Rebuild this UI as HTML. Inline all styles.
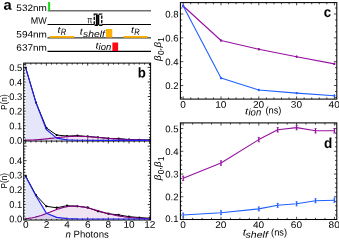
<!DOCTYPE html>
<html><head><meta charset="utf-8"><title>figure</title><style>html,body{margin:0;padding:0;background:#fff;}svg text{font-family:"Liberation Sans",sans-serif;}svg{will-change:transform;}</style></head>
<body>
<svg width="339" height="240" viewBox="0 0 339 240" style="display:block">
<rect width="339" height="240" fill="#fff"/>
<text transform="rotate(0.05 3.5 9.8)" x="3.5" y="9.8" font-size="14.4" text-anchor="start" font-weight="bold" font-style="normal" fill="#000" textLength="8.2" lengthAdjust="spacingAndGlyphs" >a</text>
<text transform="rotate(0.05 16.3 10.9)" x="16.3" y="10.9" font-size="9.3" text-anchor="start" font-weight="normal" font-style="normal" fill="#000" textLength="30.7" lengthAdjust="spacingAndGlyphs" >532nm</text>
<text transform="rotate(0.05 30.8 23.8)" x="30.8" y="23.8" font-size="9.3" text-anchor="start" font-weight="normal" font-style="normal" fill="#000" textLength="16" lengthAdjust="spacingAndGlyphs" >MW</text>
<text transform="rotate(0.05 16.3 37.4)" x="16.3" y="37.4" font-size="9.3" text-anchor="start" font-weight="normal" font-style="normal" fill="#000" textLength="30.7" lengthAdjust="spacingAndGlyphs" >594nm</text>
<text transform="rotate(0.05 16.3 50.7)" x="16.3" y="50.7" font-size="9.3" text-anchor="start" font-weight="normal" font-style="normal" fill="#000" textLength="30.7" lengthAdjust="spacingAndGlyphs" >637nm</text>
<line x1="47.8" y1="10.85" x2="151" y2="10.85" stroke="#707070" stroke-width="1.5" />
<line x1="47.5" y1="24.5" x2="151" y2="24.5" stroke="#000" stroke-width="1.05" />
<line x1="47.5" y1="37.9" x2="151" y2="37.9" stroke="#000" stroke-width="1" />
<line x1="47.5" y1="51.4" x2="151" y2="51.4" stroke="#000" stroke-width="1.1" />
<line x1="49.1" y1="2.0" x2="49.1" y2="10.7" stroke="#14dc14" stroke-width="2.0" />
<line x1="49.75" y1="36.9" x2="74.1" y2="36.9" stroke="#ffb000" stroke-width="1.8" />
<line x1="123.6" y1="36.9" x2="147.5" y2="36.9" stroke="#ffb000" stroke-width="1.8" />
<rect x="106" y="29" width="6.25" height="8.5" fill="#ffb000" stroke="none" stroke-width="1" />
<rect x="112.4" y="42.5" width="5.7" height="8.5" fill="#ff0814" stroke="none" stroke-width="1" />
<text transform="rotate(0.05 87.2 23.2)" x="87.2" y="23.2" font-size="10" text-anchor="start" font-weight="normal" font-style="normal" fill="#000" textLength="5.2" lengthAdjust="spacingAndGlyphs" >π</text>
<rect x="94.25" y="14.05" width="7.5" height="11.2" fill="#fff" stroke="#000" stroke-width="1.3" stroke-dasharray="3.3 1.2"/>
<rect x="95.9" y="14.7" width="3.4" height="10.4" fill="#000" stroke="none" stroke-width="1" />
<line x1="97.6" y1="15.2" x2="97.6" y2="24.6" stroke="#444" stroke-width="0.4" />
<text transform="rotate(0.05 57.5 32.7)" x="57.5" y="32.7" font-size="9" font-style="italic" fill="#000" textLength="3.0" lengthAdjust="spacingAndGlyphs">t</text>
<text transform="rotate(0.05 60.8 35.1)" x="60.8" y="35.1" font-size="9.2" font-style="italic" fill="#000" textLength="5.4" lengthAdjust="spacingAndGlyphs">R</text>
<text transform="rotate(0.05 131 32.7)" x="131" y="32.7" font-size="9" font-style="italic" fill="#000" textLength="3.0" lengthAdjust="spacingAndGlyphs">t</text>
<text transform="rotate(0.05 134.3 35.1)" x="134.3" y="35.1" font-size="9.2" font-style="italic" fill="#000" textLength="5.4" lengthAdjust="spacingAndGlyphs">R</text>
<text transform="rotate(0.05 79.8 34.6)" x="79.8" y="34.6" font-size="9" font-style="italic" fill="#000" textLength="3.0" lengthAdjust="spacingAndGlyphs">t</text>
<text transform="rotate(0.05 83 36.9)" x="83" y="36.9" font-size="9.1" font-style="italic" fill="#000" textLength="21.8" lengthAdjust="spacingAndGlyphs">shelf</text>
<text transform="rotate(0.05 95.4 48.4)" x="95.4" y="48.4" font-size="9" font-style="italic" fill="#000" textLength="3.0" lengthAdjust="spacingAndGlyphs">t</text>
<text transform="rotate(0.05 98.6 49.9)" x="98.6" y="49.9" font-size="9.5" font-style="italic" fill="#000" textLength="12.6" lengthAdjust="spacingAndGlyphs">ion</text>
<rect x="23.7" y="63.1" width="126.89999999999999" height="156.9" fill="none" stroke="#000" stroke-width="1.0" />
<line x1="23.7" y1="141.0" x2="150.6" y2="141.0" stroke="#000" stroke-width="1.0" />
<line x1="25.7" y1="141.0" x2="25.7" y2="138.5" stroke="#000" stroke-width="0.8" />
<line x1="25.7" y1="63.1" x2="25.7" y2="65.6" stroke="#000" stroke-width="0.8" />
<line x1="25.7" y1="220.0" x2="25.7" y2="217.5" stroke="#000" stroke-width="0.8" />
<line x1="25.7" y1="141.0" x2="25.7" y2="143.5" stroke="#000" stroke-width="0.8" />
<line x1="30.865" y1="141.0" x2="30.865" y2="139.5" stroke="#000" stroke-width="0.8" />
<line x1="30.865" y1="63.1" x2="30.865" y2="64.6" stroke="#000" stroke-width="0.8" />
<line x1="30.865" y1="220.0" x2="30.865" y2="218.5" stroke="#000" stroke-width="0.8" />
<line x1="30.865" y1="141.0" x2="30.865" y2="142.5" stroke="#000" stroke-width="0.8" />
<line x1="36.03" y1="141.0" x2="36.03" y2="139.5" stroke="#000" stroke-width="0.8" />
<line x1="36.03" y1="63.1" x2="36.03" y2="64.6" stroke="#000" stroke-width="0.8" />
<line x1="36.03" y1="220.0" x2="36.03" y2="218.5" stroke="#000" stroke-width="0.8" />
<line x1="36.03" y1="141.0" x2="36.03" y2="142.5" stroke="#000" stroke-width="0.8" />
<line x1="41.195" y1="141.0" x2="41.195" y2="139.5" stroke="#000" stroke-width="0.8" />
<line x1="41.195" y1="63.1" x2="41.195" y2="64.6" stroke="#000" stroke-width="0.8" />
<line x1="41.195" y1="220.0" x2="41.195" y2="218.5" stroke="#000" stroke-width="0.8" />
<line x1="41.195" y1="141.0" x2="41.195" y2="142.5" stroke="#000" stroke-width="0.8" />
<line x1="46.36" y1="141.0" x2="46.36" y2="138.5" stroke="#000" stroke-width="0.8" />
<line x1="46.36" y1="63.1" x2="46.36" y2="65.6" stroke="#000" stroke-width="0.8" />
<line x1="46.36" y1="220.0" x2="46.36" y2="217.5" stroke="#000" stroke-width="0.8" />
<line x1="46.36" y1="141.0" x2="46.36" y2="143.5" stroke="#000" stroke-width="0.8" />
<line x1="51.525" y1="141.0" x2="51.525" y2="139.5" stroke="#000" stroke-width="0.8" />
<line x1="51.525" y1="63.1" x2="51.525" y2="64.6" stroke="#000" stroke-width="0.8" />
<line x1="51.525" y1="220.0" x2="51.525" y2="218.5" stroke="#000" stroke-width="0.8" />
<line x1="51.525" y1="141.0" x2="51.525" y2="142.5" stroke="#000" stroke-width="0.8" />
<line x1="56.69" y1="141.0" x2="56.69" y2="139.5" stroke="#000" stroke-width="0.8" />
<line x1="56.69" y1="63.1" x2="56.69" y2="64.6" stroke="#000" stroke-width="0.8" />
<line x1="56.69" y1="220.0" x2="56.69" y2="218.5" stroke="#000" stroke-width="0.8" />
<line x1="56.69" y1="141.0" x2="56.69" y2="142.5" stroke="#000" stroke-width="0.8" />
<line x1="61.855000000000004" y1="141.0" x2="61.855000000000004" y2="139.5" stroke="#000" stroke-width="0.8" />
<line x1="61.855000000000004" y1="63.1" x2="61.855000000000004" y2="64.6" stroke="#000" stroke-width="0.8" />
<line x1="61.855000000000004" y1="220.0" x2="61.855000000000004" y2="218.5" stroke="#000" stroke-width="0.8" />
<line x1="61.855000000000004" y1="141.0" x2="61.855000000000004" y2="142.5" stroke="#000" stroke-width="0.8" />
<line x1="67.02" y1="141.0" x2="67.02" y2="138.5" stroke="#000" stroke-width="0.8" />
<line x1="67.02" y1="63.1" x2="67.02" y2="65.6" stroke="#000" stroke-width="0.8" />
<line x1="67.02" y1="220.0" x2="67.02" y2="217.5" stroke="#000" stroke-width="0.8" />
<line x1="67.02" y1="141.0" x2="67.02" y2="143.5" stroke="#000" stroke-width="0.8" />
<line x1="72.185" y1="141.0" x2="72.185" y2="139.5" stroke="#000" stroke-width="0.8" />
<line x1="72.185" y1="63.1" x2="72.185" y2="64.6" stroke="#000" stroke-width="0.8" />
<line x1="72.185" y1="220.0" x2="72.185" y2="218.5" stroke="#000" stroke-width="0.8" />
<line x1="72.185" y1="141.0" x2="72.185" y2="142.5" stroke="#000" stroke-width="0.8" />
<line x1="77.35" y1="141.0" x2="77.35" y2="139.5" stroke="#000" stroke-width="0.8" />
<line x1="77.35" y1="63.1" x2="77.35" y2="64.6" stroke="#000" stroke-width="0.8" />
<line x1="77.35" y1="220.0" x2="77.35" y2="218.5" stroke="#000" stroke-width="0.8" />
<line x1="77.35" y1="141.0" x2="77.35" y2="142.5" stroke="#000" stroke-width="0.8" />
<line x1="82.515" y1="141.0" x2="82.515" y2="139.5" stroke="#000" stroke-width="0.8" />
<line x1="82.515" y1="63.1" x2="82.515" y2="64.6" stroke="#000" stroke-width="0.8" />
<line x1="82.515" y1="220.0" x2="82.515" y2="218.5" stroke="#000" stroke-width="0.8" />
<line x1="82.515" y1="141.0" x2="82.515" y2="142.5" stroke="#000" stroke-width="0.8" />
<line x1="87.68" y1="141.0" x2="87.68" y2="138.5" stroke="#000" stroke-width="0.8" />
<line x1="87.68" y1="63.1" x2="87.68" y2="65.6" stroke="#000" stroke-width="0.8" />
<line x1="87.68" y1="220.0" x2="87.68" y2="217.5" stroke="#000" stroke-width="0.8" />
<line x1="87.68" y1="141.0" x2="87.68" y2="143.5" stroke="#000" stroke-width="0.8" />
<line x1="92.845" y1="141.0" x2="92.845" y2="139.5" stroke="#000" stroke-width="0.8" />
<line x1="92.845" y1="63.1" x2="92.845" y2="64.6" stroke="#000" stroke-width="0.8" />
<line x1="92.845" y1="220.0" x2="92.845" y2="218.5" stroke="#000" stroke-width="0.8" />
<line x1="92.845" y1="141.0" x2="92.845" y2="142.5" stroke="#000" stroke-width="0.8" />
<line x1="98.01" y1="141.0" x2="98.01" y2="139.5" stroke="#000" stroke-width="0.8" />
<line x1="98.01" y1="63.1" x2="98.01" y2="64.6" stroke="#000" stroke-width="0.8" />
<line x1="98.01" y1="220.0" x2="98.01" y2="218.5" stroke="#000" stroke-width="0.8" />
<line x1="98.01" y1="141.0" x2="98.01" y2="142.5" stroke="#000" stroke-width="0.8" />
<line x1="103.175" y1="141.0" x2="103.175" y2="139.5" stroke="#000" stroke-width="0.8" />
<line x1="103.175" y1="63.1" x2="103.175" y2="64.6" stroke="#000" stroke-width="0.8" />
<line x1="103.175" y1="220.0" x2="103.175" y2="218.5" stroke="#000" stroke-width="0.8" />
<line x1="103.175" y1="141.0" x2="103.175" y2="142.5" stroke="#000" stroke-width="0.8" />
<line x1="108.34" y1="141.0" x2="108.34" y2="138.5" stroke="#000" stroke-width="0.8" />
<line x1="108.34" y1="63.1" x2="108.34" y2="65.6" stroke="#000" stroke-width="0.8" />
<line x1="108.34" y1="220.0" x2="108.34" y2="217.5" stroke="#000" stroke-width="0.8" />
<line x1="108.34" y1="141.0" x2="108.34" y2="143.5" stroke="#000" stroke-width="0.8" />
<line x1="113.50500000000001" y1="141.0" x2="113.50500000000001" y2="139.5" stroke="#000" stroke-width="0.8" />
<line x1="113.50500000000001" y1="63.1" x2="113.50500000000001" y2="64.6" stroke="#000" stroke-width="0.8" />
<line x1="113.50500000000001" y1="220.0" x2="113.50500000000001" y2="218.5" stroke="#000" stroke-width="0.8" />
<line x1="113.50500000000001" y1="141.0" x2="113.50500000000001" y2="142.5" stroke="#000" stroke-width="0.8" />
<line x1="118.67" y1="141.0" x2="118.67" y2="139.5" stroke="#000" stroke-width="0.8" />
<line x1="118.67" y1="63.1" x2="118.67" y2="64.6" stroke="#000" stroke-width="0.8" />
<line x1="118.67" y1="220.0" x2="118.67" y2="218.5" stroke="#000" stroke-width="0.8" />
<line x1="118.67" y1="141.0" x2="118.67" y2="142.5" stroke="#000" stroke-width="0.8" />
<line x1="123.83500000000001" y1="141.0" x2="123.83500000000001" y2="139.5" stroke="#000" stroke-width="0.8" />
<line x1="123.83500000000001" y1="63.1" x2="123.83500000000001" y2="64.6" stroke="#000" stroke-width="0.8" />
<line x1="123.83500000000001" y1="220.0" x2="123.83500000000001" y2="218.5" stroke="#000" stroke-width="0.8" />
<line x1="123.83500000000001" y1="141.0" x2="123.83500000000001" y2="142.5" stroke="#000" stroke-width="0.8" />
<line x1="129.0" y1="141.0" x2="129.0" y2="138.5" stroke="#000" stroke-width="0.8" />
<line x1="129.0" y1="63.1" x2="129.0" y2="65.6" stroke="#000" stroke-width="0.8" />
<line x1="129.0" y1="220.0" x2="129.0" y2="217.5" stroke="#000" stroke-width="0.8" />
<line x1="129.0" y1="141.0" x2="129.0" y2="143.5" stroke="#000" stroke-width="0.8" />
<line x1="134.165" y1="141.0" x2="134.165" y2="139.5" stroke="#000" stroke-width="0.8" />
<line x1="134.165" y1="63.1" x2="134.165" y2="64.6" stroke="#000" stroke-width="0.8" />
<line x1="134.165" y1="220.0" x2="134.165" y2="218.5" stroke="#000" stroke-width="0.8" />
<line x1="134.165" y1="141.0" x2="134.165" y2="142.5" stroke="#000" stroke-width="0.8" />
<line x1="139.32999999999998" y1="141.0" x2="139.32999999999998" y2="139.5" stroke="#000" stroke-width="0.8" />
<line x1="139.32999999999998" y1="63.1" x2="139.32999999999998" y2="64.6" stroke="#000" stroke-width="0.8" />
<line x1="139.32999999999998" y1="220.0" x2="139.32999999999998" y2="218.5" stroke="#000" stroke-width="0.8" />
<line x1="139.32999999999998" y1="141.0" x2="139.32999999999998" y2="142.5" stroke="#000" stroke-width="0.8" />
<line x1="144.495" y1="141.0" x2="144.495" y2="139.5" stroke="#000" stroke-width="0.8" />
<line x1="144.495" y1="63.1" x2="144.495" y2="64.6" stroke="#000" stroke-width="0.8" />
<line x1="144.495" y1="220.0" x2="144.495" y2="218.5" stroke="#000" stroke-width="0.8" />
<line x1="144.495" y1="141.0" x2="144.495" y2="142.5" stroke="#000" stroke-width="0.8" />
<line x1="149.66" y1="141.0" x2="149.66" y2="138.5" stroke="#000" stroke-width="0.8" />
<line x1="149.66" y1="63.1" x2="149.66" y2="65.6" stroke="#000" stroke-width="0.8" />
<line x1="149.66" y1="220.0" x2="149.66" y2="217.5" stroke="#000" stroke-width="0.8" />
<line x1="149.66" y1="141.0" x2="149.66" y2="143.5" stroke="#000" stroke-width="0.8" />
<line x1="23.7" y1="140.3" x2="26.599999999999998" y2="140.3" stroke="#000" stroke-width="0.8" />
<line x1="150.6" y1="140.3" x2="147.7" y2="140.3" stroke="#000" stroke-width="0.8" />
<line x1="23.7" y1="137.38400000000001" x2="25.4" y2="137.38400000000001" stroke="#000" stroke-width="0.8" />
<line x1="150.6" y1="137.38400000000001" x2="148.9" y2="137.38400000000001" stroke="#000" stroke-width="0.8" />
<line x1="23.7" y1="134.46800000000002" x2="25.4" y2="134.46800000000002" stroke="#000" stroke-width="0.8" />
<line x1="150.6" y1="134.46800000000002" x2="148.9" y2="134.46800000000002" stroke="#000" stroke-width="0.8" />
<line x1="23.7" y1="131.55200000000002" x2="25.4" y2="131.55200000000002" stroke="#000" stroke-width="0.8" />
<line x1="150.6" y1="131.55200000000002" x2="148.9" y2="131.55200000000002" stroke="#000" stroke-width="0.8" />
<line x1="23.7" y1="128.63600000000002" x2="25.4" y2="128.63600000000002" stroke="#000" stroke-width="0.8" />
<line x1="150.6" y1="128.63600000000002" x2="148.9" y2="128.63600000000002" stroke="#000" stroke-width="0.8" />
<line x1="23.7" y1="125.72000000000001" x2="26.599999999999998" y2="125.72000000000001" stroke="#000" stroke-width="0.8" />
<line x1="150.6" y1="125.72000000000001" x2="147.7" y2="125.72000000000001" stroke="#000" stroke-width="0.8" />
<line x1="23.7" y1="122.804" x2="25.4" y2="122.804" stroke="#000" stroke-width="0.8" />
<line x1="150.6" y1="122.804" x2="148.9" y2="122.804" stroke="#000" stroke-width="0.8" />
<line x1="23.7" y1="119.888" x2="25.4" y2="119.888" stroke="#000" stroke-width="0.8" />
<line x1="150.6" y1="119.888" x2="148.9" y2="119.888" stroke="#000" stroke-width="0.8" />
<line x1="23.7" y1="116.97200000000001" x2="25.4" y2="116.97200000000001" stroke="#000" stroke-width="0.8" />
<line x1="150.6" y1="116.97200000000001" x2="148.9" y2="116.97200000000001" stroke="#000" stroke-width="0.8" />
<line x1="23.7" y1="114.05600000000001" x2="25.4" y2="114.05600000000001" stroke="#000" stroke-width="0.8" />
<line x1="150.6" y1="114.05600000000001" x2="148.9" y2="114.05600000000001" stroke="#000" stroke-width="0.8" />
<line x1="23.7" y1="111.14000000000001" x2="26.599999999999998" y2="111.14000000000001" stroke="#000" stroke-width="0.8" />
<line x1="150.6" y1="111.14000000000001" x2="147.7" y2="111.14000000000001" stroke="#000" stroke-width="0.8" />
<line x1="23.7" y1="108.22400000000002" x2="25.4" y2="108.22400000000002" stroke="#000" stroke-width="0.8" />
<line x1="150.6" y1="108.22400000000002" x2="148.9" y2="108.22400000000002" stroke="#000" stroke-width="0.8" />
<line x1="23.7" y1="105.308" x2="25.4" y2="105.308" stroke="#000" stroke-width="0.8" />
<line x1="150.6" y1="105.308" x2="148.9" y2="105.308" stroke="#000" stroke-width="0.8" />
<line x1="23.7" y1="102.39200000000001" x2="25.4" y2="102.39200000000001" stroke="#000" stroke-width="0.8" />
<line x1="150.6" y1="102.39200000000001" x2="148.9" y2="102.39200000000001" stroke="#000" stroke-width="0.8" />
<line x1="23.7" y1="99.476" x2="25.4" y2="99.476" stroke="#000" stroke-width="0.8" />
<line x1="150.6" y1="99.476" x2="148.9" y2="99.476" stroke="#000" stroke-width="0.8" />
<line x1="23.7" y1="96.56" x2="26.599999999999998" y2="96.56" stroke="#000" stroke-width="0.8" />
<line x1="150.6" y1="96.56" x2="147.7" y2="96.56" stroke="#000" stroke-width="0.8" />
<line x1="23.7" y1="93.644" x2="25.4" y2="93.644" stroke="#000" stroke-width="0.8" />
<line x1="150.6" y1="93.644" x2="148.9" y2="93.644" stroke="#000" stroke-width="0.8" />
<line x1="23.7" y1="90.72800000000001" x2="25.4" y2="90.72800000000001" stroke="#000" stroke-width="0.8" />
<line x1="150.6" y1="90.72800000000001" x2="148.9" y2="90.72800000000001" stroke="#000" stroke-width="0.8" />
<line x1="23.7" y1="87.81200000000001" x2="25.4" y2="87.81200000000001" stroke="#000" stroke-width="0.8" />
<line x1="150.6" y1="87.81200000000001" x2="148.9" y2="87.81200000000001" stroke="#000" stroke-width="0.8" />
<line x1="23.7" y1="84.89600000000002" x2="25.4" y2="84.89600000000002" stroke="#000" stroke-width="0.8" />
<line x1="150.6" y1="84.89600000000002" x2="148.9" y2="84.89600000000002" stroke="#000" stroke-width="0.8" />
<line x1="23.7" y1="81.98" x2="26.599999999999998" y2="81.98" stroke="#000" stroke-width="0.8" />
<line x1="150.6" y1="81.98" x2="147.7" y2="81.98" stroke="#000" stroke-width="0.8" />
<line x1="23.7" y1="79.06400000000001" x2="25.4" y2="79.06400000000001" stroke="#000" stroke-width="0.8" />
<line x1="150.6" y1="79.06400000000001" x2="148.9" y2="79.06400000000001" stroke="#000" stroke-width="0.8" />
<line x1="23.7" y1="76.14800000000001" x2="25.4" y2="76.14800000000001" stroke="#000" stroke-width="0.8" />
<line x1="150.6" y1="76.14800000000001" x2="148.9" y2="76.14800000000001" stroke="#000" stroke-width="0.8" />
<line x1="23.7" y1="73.232" x2="25.4" y2="73.232" stroke="#000" stroke-width="0.8" />
<line x1="150.6" y1="73.232" x2="148.9" y2="73.232" stroke="#000" stroke-width="0.8" />
<line x1="23.7" y1="70.316" x2="25.4" y2="70.316" stroke="#000" stroke-width="0.8" />
<line x1="150.6" y1="70.316" x2="148.9" y2="70.316" stroke="#000" stroke-width="0.8" />
<line x1="23.7" y1="67.4" x2="26.599999999999998" y2="67.4" stroke="#000" stroke-width="0.8" />
<line x1="150.6" y1="67.4" x2="147.7" y2="67.4" stroke="#000" stroke-width="0.8" />
<line x1="23.7" y1="64.48400000000001" x2="25.4" y2="64.48400000000001" stroke="#000" stroke-width="0.8" />
<line x1="150.6" y1="64.48400000000001" x2="148.9" y2="64.48400000000001" stroke="#000" stroke-width="0.8" />
<line x1="23.7" y1="219.0" x2="26.599999999999998" y2="219.0" stroke="#000" stroke-width="0.8" />
<line x1="150.6" y1="219.0" x2="147.7" y2="219.0" stroke="#000" stroke-width="0.8" />
<line x1="23.7" y1="216.084" x2="25.4" y2="216.084" stroke="#000" stroke-width="0.8" />
<line x1="150.6" y1="216.084" x2="148.9" y2="216.084" stroke="#000" stroke-width="0.8" />
<line x1="23.7" y1="213.168" x2="25.4" y2="213.168" stroke="#000" stroke-width="0.8" />
<line x1="150.6" y1="213.168" x2="148.9" y2="213.168" stroke="#000" stroke-width="0.8" />
<line x1="23.7" y1="210.252" x2="25.4" y2="210.252" stroke="#000" stroke-width="0.8" />
<line x1="150.6" y1="210.252" x2="148.9" y2="210.252" stroke="#000" stroke-width="0.8" />
<line x1="23.7" y1="207.336" x2="25.4" y2="207.336" stroke="#000" stroke-width="0.8" />
<line x1="150.6" y1="207.336" x2="148.9" y2="207.336" stroke="#000" stroke-width="0.8" />
<line x1="23.7" y1="204.42" x2="26.599999999999998" y2="204.42" stroke="#000" stroke-width="0.8" />
<line x1="150.6" y1="204.42" x2="147.7" y2="204.42" stroke="#000" stroke-width="0.8" />
<line x1="23.7" y1="201.504" x2="25.4" y2="201.504" stroke="#000" stroke-width="0.8" />
<line x1="150.6" y1="201.504" x2="148.9" y2="201.504" stroke="#000" stroke-width="0.8" />
<line x1="23.7" y1="198.588" x2="25.4" y2="198.588" stroke="#000" stroke-width="0.8" />
<line x1="150.6" y1="198.588" x2="148.9" y2="198.588" stroke="#000" stroke-width="0.8" />
<line x1="23.7" y1="195.672" x2="25.4" y2="195.672" stroke="#000" stroke-width="0.8" />
<line x1="150.6" y1="195.672" x2="148.9" y2="195.672" stroke="#000" stroke-width="0.8" />
<line x1="23.7" y1="192.756" x2="25.4" y2="192.756" stroke="#000" stroke-width="0.8" />
<line x1="150.6" y1="192.756" x2="148.9" y2="192.756" stroke="#000" stroke-width="0.8" />
<line x1="23.7" y1="189.84" x2="26.599999999999998" y2="189.84" stroke="#000" stroke-width="0.8" />
<line x1="150.6" y1="189.84" x2="147.7" y2="189.84" stroke="#000" stroke-width="0.8" />
<line x1="23.7" y1="186.924" x2="25.4" y2="186.924" stroke="#000" stroke-width="0.8" />
<line x1="150.6" y1="186.924" x2="148.9" y2="186.924" stroke="#000" stroke-width="0.8" />
<line x1="23.7" y1="184.00799999999998" x2="25.4" y2="184.00799999999998" stroke="#000" stroke-width="0.8" />
<line x1="150.6" y1="184.00799999999998" x2="148.9" y2="184.00799999999998" stroke="#000" stroke-width="0.8" />
<line x1="23.7" y1="181.09199999999998" x2="25.4" y2="181.09199999999998" stroke="#000" stroke-width="0.8" />
<line x1="150.6" y1="181.09199999999998" x2="148.9" y2="181.09199999999998" stroke="#000" stroke-width="0.8" />
<line x1="23.7" y1="178.176" x2="25.4" y2="178.176" stroke="#000" stroke-width="0.8" />
<line x1="150.6" y1="178.176" x2="148.9" y2="178.176" stroke="#000" stroke-width="0.8" />
<line x1="23.7" y1="175.26" x2="26.599999999999998" y2="175.26" stroke="#000" stroke-width="0.8" />
<line x1="150.6" y1="175.26" x2="147.7" y2="175.26" stroke="#000" stroke-width="0.8" />
<line x1="23.7" y1="172.344" x2="25.4" y2="172.344" stroke="#000" stroke-width="0.8" />
<line x1="150.6" y1="172.344" x2="148.9" y2="172.344" stroke="#000" stroke-width="0.8" />
<line x1="23.7" y1="169.428" x2="25.4" y2="169.428" stroke="#000" stroke-width="0.8" />
<line x1="150.6" y1="169.428" x2="148.9" y2="169.428" stroke="#000" stroke-width="0.8" />
<line x1="23.7" y1="166.512" x2="25.4" y2="166.512" stroke="#000" stroke-width="0.8" />
<line x1="150.6" y1="166.512" x2="148.9" y2="166.512" stroke="#000" stroke-width="0.8" />
<line x1="23.7" y1="163.596" x2="25.4" y2="163.596" stroke="#000" stroke-width="0.8" />
<line x1="150.6" y1="163.596" x2="148.9" y2="163.596" stroke="#000" stroke-width="0.8" />
<line x1="23.7" y1="160.68" x2="26.599999999999998" y2="160.68" stroke="#000" stroke-width="0.8" />
<line x1="150.6" y1="160.68" x2="147.7" y2="160.68" stroke="#000" stroke-width="0.8" />
<line x1="23.7" y1="157.764" x2="25.4" y2="157.764" stroke="#000" stroke-width="0.8" />
<line x1="150.6" y1="157.764" x2="148.9" y2="157.764" stroke="#000" stroke-width="0.8" />
<line x1="23.7" y1="154.848" x2="25.4" y2="154.848" stroke="#000" stroke-width="0.8" />
<line x1="150.6" y1="154.848" x2="148.9" y2="154.848" stroke="#000" stroke-width="0.8" />
<line x1="23.7" y1="151.932" x2="25.4" y2="151.932" stroke="#000" stroke-width="0.8" />
<line x1="150.6" y1="151.932" x2="148.9" y2="151.932" stroke="#000" stroke-width="0.8" />
<line x1="23.7" y1="149.016" x2="25.4" y2="149.016" stroke="#000" stroke-width="0.8" />
<line x1="150.6" y1="149.016" x2="148.9" y2="149.016" stroke="#000" stroke-width="0.8" />
<line x1="23.7" y1="146.1" x2="26.599999999999998" y2="146.1" stroke="#000" stroke-width="0.8" />
<line x1="150.6" y1="146.1" x2="147.7" y2="146.1" stroke="#000" stroke-width="0.8" />
<line x1="23.7" y1="143.184" x2="25.4" y2="143.184" stroke="#000" stroke-width="0.8" />
<line x1="150.6" y1="143.184" x2="148.9" y2="143.184" stroke="#000" stroke-width="0.8" />
<polygon points="25.70,140.30 25.70,67.84 36.03,102.83 46.36,129.51 56.69,138.11 67.02,139.86 77.35,140.21 87.68,140.30 98.01,140.30 108.34,140.30 118.67,140.30 129.00,140.30 139.33,140.30 149.66,140.30 149.66,140.30" fill="#e6e6fa" stroke="none" />
<polygon points="25.70,140.30 25.70,140.20 26.99,140.17 28.28,140.14 29.57,140.10 30.86,140.05 32.16,139.99 33.45,139.93 34.74,139.86 36.03,139.78 37.32,139.69 38.61,139.59 39.90,139.49 41.20,139.37 42.49,139.26 43.78,139.13 45.07,139.00 46.36,138.86 47.65,138.71 48.94,138.57 50.23,138.42 51.52,138.26 52.82,138.11 54.11,137.96 55.40,137.81 56.69,137.66 57.98,137.51 59.27,137.37 60.56,137.23 61.86,137.10 63.15,136.98 64.44,136.87 65.73,136.76 67.02,136.67 68.31,136.58 69.60,136.51 70.89,136.44 72.19,136.39 73.48,136.35 74.77,136.32 76.06,136.31 77.35,136.30 78.64,136.31 79.93,136.33 81.22,136.35 82.52,136.39 83.81,136.44 85.10,136.50 86.39,136.56 87.68,136.63 88.97,136.72 90.26,136.80 91.55,136.89 92.84,136.99 94.14,137.09 95.43,137.20 96.72,137.31 98.01,137.42 99.30,137.53 100.59,137.65 101.88,137.76 103.17,137.87 104.47,137.99 105.76,138.10 107.05,138.21 108.34,138.32 109.63,138.43 110.92,138.53 112.21,138.63 113.51,138.73 114.80,138.83 116.09,138.92 117.38,139.01 118.67,139.09 119.96,139.17 121.25,139.25 122.54,139.32 123.84,139.39 125.13,139.46 126.42,139.52 127.71,139.58 129.00,139.63 130.29,139.69 131.58,139.74 132.87,139.78 134.16,139.82 135.46,139.86 136.75,139.90 138.04,139.94 139.33,139.97 140.62,140.00 141.91,140.02 143.20,140.05 144.50,140.07 145.79,140.09 147.08,140.11 148.37,140.13 149.66,140.15 149.66,140.30" fill="rgba(128,0,128,0.11)" stroke="none" />
<polyline points="25.70,67.84 36.03,102.54 46.36,127.91 56.69,135.05 67.02,136.07 77.35,135.63 87.68,136.51 98.01,137.38 108.34,138.40 118.67,138.55 129.00,139.57 139.33,139.86 149.66,140.15" fill="none" stroke="#000" stroke-width="1.0" stroke-linejoin="round" />
<circle cx="25.70" cy="67.84" r="1.15" fill="#000"/>
<circle cx="36.03" cy="102.54" r="1.15" fill="#000"/>
<circle cx="46.36" cy="127.91" r="1.15" fill="#000"/>
<circle cx="56.69" cy="135.05" r="1.15" fill="#000"/>
<circle cx="67.02" cy="136.07" r="1.15" fill="#000"/>
<circle cx="77.35" cy="135.63" r="1.15" fill="#000"/>
<circle cx="87.68" cy="136.51" r="1.15" fill="#000"/>
<circle cx="98.01" cy="137.38" r="1.15" fill="#000"/>
<circle cx="108.34" cy="138.40" r="1.15" fill="#000"/>
<circle cx="118.67" cy="138.55" r="1.15" fill="#000"/>
<circle cx="129.00" cy="139.57" r="1.15" fill="#000"/>
<circle cx="139.33" cy="139.86" r="1.15" fill="#000"/>
<circle cx="149.66" cy="140.15" r="1.15" fill="#000"/>
<polyline points="25.70,140.20 26.99,140.17 28.28,140.14 29.57,140.10 30.86,140.05 32.16,139.99 33.45,139.93 34.74,139.86 36.03,139.78 37.32,139.69 38.61,139.59 39.90,139.49 41.20,139.37 42.49,139.26 43.78,139.13 45.07,139.00 46.36,138.86 47.65,138.71 48.94,138.57 50.23,138.42 51.52,138.26 52.82,138.11 54.11,137.96 55.40,137.81 56.69,137.66 57.98,137.51 59.27,137.37 60.56,137.23 61.86,137.10 63.15,136.98 64.44,136.87 65.73,136.76 67.02,136.67 68.31,136.58 69.60,136.51 70.89,136.44 72.19,136.39 73.48,136.35 74.77,136.32 76.06,136.31 77.35,136.30 78.64,136.31 79.93,136.33 81.22,136.35 82.52,136.39 83.81,136.44 85.10,136.50 86.39,136.56 87.68,136.63 88.97,136.72 90.26,136.80 91.55,136.89 92.84,136.99 94.14,137.09 95.43,137.20 96.72,137.31 98.01,137.42 99.30,137.53 100.59,137.65 101.88,137.76 103.17,137.87 104.47,137.99 105.76,138.10 107.05,138.21 108.34,138.32 109.63,138.43 110.92,138.53 112.21,138.63 113.51,138.73 114.80,138.83 116.09,138.92 117.38,139.01 118.67,139.09 119.96,139.17 121.25,139.25 122.54,139.32 123.84,139.39 125.13,139.46 126.42,139.52 127.71,139.58 129.00,139.63 130.29,139.69 131.58,139.74 132.87,139.78 134.16,139.82 135.46,139.86 136.75,139.90 138.04,139.94 139.33,139.97 140.62,140.00 141.91,140.02 143.20,140.05 144.50,140.07 145.79,140.09 147.08,140.11 148.37,140.13 149.66,140.15" fill="none" stroke="#800080" stroke-width="1.1" stroke-linejoin="round" />
<polyline points="25.70,67.84 36.03,102.83 46.36,129.51 56.69,138.11 67.02,139.86 77.35,140.21 87.68,140.30 98.01,140.30 108.34,140.30 118.67,140.30 129.00,140.30 139.33,140.30 149.66,140.30" fill="none" stroke="#2020f0" stroke-width="1.15" stroke-linejoin="round" />
<polygon points="25.70,219.00 25.70,176.43 36.03,195.96 46.36,213.17 56.69,217.40 67.02,218.56 77.35,218.91 87.68,219.00 98.01,219.00 108.34,219.00 118.67,219.00 129.00,219.00 139.33,219.00 149.66,219.00 149.66,219.00" fill="#e6e6fa" stroke="none" />
<polygon points="25.70,219.00 25.70,218.60 26.99,218.47 28.28,218.33 29.57,218.16 30.86,217.96 32.16,217.74 33.45,217.49 34.74,217.21 36.03,216.90 37.32,216.56 38.61,216.20 39.90,215.81 41.20,215.40 42.49,214.96 43.78,214.50 45.07,214.03 46.36,213.54 47.65,213.04 48.94,212.53 50.23,212.02 51.52,211.51 52.82,211.00 54.11,210.50 55.40,210.01 56.69,209.54 57.98,209.08 59.27,208.65 60.56,208.25 61.86,207.87 63.15,207.52 64.44,207.21 65.73,206.94 67.02,206.70 68.31,206.50 69.60,206.34 70.89,206.22 72.19,206.14 73.48,206.10 74.77,206.10 76.06,206.13 77.35,206.21 78.64,206.32 79.93,206.46 81.22,206.64 82.52,206.84 83.81,207.07 85.10,207.33 86.39,207.61 87.68,207.91 88.97,208.23 90.26,208.57 91.55,208.91 92.84,209.27 94.14,209.64 95.43,210.01 96.72,210.39 98.01,210.76 99.30,211.14 100.59,211.52 101.88,211.89 103.17,212.26 104.47,212.62 105.76,212.97 107.05,213.31 108.34,213.65 109.63,213.97 110.92,214.28 112.21,214.58 113.51,214.87 114.80,215.15 116.09,215.42 117.38,215.67 118.67,215.91 119.96,216.13 121.25,216.35 122.54,216.55 123.84,216.74 125.13,216.92 126.42,217.09 127.71,217.25 129.00,217.39 130.29,217.53 131.58,217.65 132.87,217.77 134.16,217.88 135.46,217.98 136.75,218.08 138.04,218.16 139.33,218.24 140.62,218.31 141.91,218.38 143.20,218.44 144.50,218.49 145.79,218.54 147.08,218.59 148.37,218.63 149.66,218.67 149.66,219.00" fill="rgba(128,0,128,0.11)" stroke="none" />
<polyline points="25.70,176.13 36.03,195.23 46.36,206.32 56.69,207.77 67.02,205.73 77.35,206.32 87.68,207.48 98.01,211.27 108.34,213.75 118.67,214.92 129.00,216.67 139.33,217.54 149.66,218.27" fill="none" stroke="#000" stroke-width="1.0" stroke-linejoin="round" />
<circle cx="25.70" cy="176.13" r="1.15" fill="#000"/>
<circle cx="36.03" cy="195.23" r="1.15" fill="#000"/>
<circle cx="46.36" cy="206.32" r="1.15" fill="#000"/>
<circle cx="56.69" cy="207.77" r="1.15" fill="#000"/>
<circle cx="67.02" cy="205.73" r="1.15" fill="#000"/>
<circle cx="77.35" cy="206.32" r="1.15" fill="#000"/>
<circle cx="87.68" cy="207.48" r="1.15" fill="#000"/>
<circle cx="98.01" cy="211.27" r="1.15" fill="#000"/>
<circle cx="108.34" cy="213.75" r="1.15" fill="#000"/>
<circle cx="118.67" cy="214.92" r="1.15" fill="#000"/>
<circle cx="129.00" cy="216.67" r="1.15" fill="#000"/>
<circle cx="139.33" cy="217.54" r="1.15" fill="#000"/>
<circle cx="149.66" cy="218.27" r="1.15" fill="#000"/>
<polyline points="25.70,218.60 26.99,218.47 28.28,218.33 29.57,218.16 30.86,217.96 32.16,217.74 33.45,217.49 34.74,217.21 36.03,216.90 37.32,216.56 38.61,216.20 39.90,215.81 41.20,215.40 42.49,214.96 43.78,214.50 45.07,214.03 46.36,213.54 47.65,213.04 48.94,212.53 50.23,212.02 51.52,211.51 52.82,211.00 54.11,210.50 55.40,210.01 56.69,209.54 57.98,209.08 59.27,208.65 60.56,208.25 61.86,207.87 63.15,207.52 64.44,207.21 65.73,206.94 67.02,206.70 68.31,206.50 69.60,206.34 70.89,206.22 72.19,206.14 73.48,206.10 74.77,206.10 76.06,206.13 77.35,206.21 78.64,206.32 79.93,206.46 81.22,206.64 82.52,206.84 83.81,207.07 85.10,207.33 86.39,207.61 87.68,207.91 88.97,208.23 90.26,208.57 91.55,208.91 92.84,209.27 94.14,209.64 95.43,210.01 96.72,210.39 98.01,210.76 99.30,211.14 100.59,211.52 101.88,211.89 103.17,212.26 104.47,212.62 105.76,212.97 107.05,213.31 108.34,213.65 109.63,213.97 110.92,214.28 112.21,214.58 113.51,214.87 114.80,215.15 116.09,215.42 117.38,215.67 118.67,215.91 119.96,216.13 121.25,216.35 122.54,216.55 123.84,216.74 125.13,216.92 126.42,217.09 127.71,217.25 129.00,217.39 130.29,217.53 131.58,217.65 132.87,217.77 134.16,217.88 135.46,217.98 136.75,218.08 138.04,218.16 139.33,218.24 140.62,218.31 141.91,218.38 143.20,218.44 144.50,218.49 145.79,218.54 147.08,218.59 148.37,218.63 149.66,218.67" fill="none" stroke="#800080" stroke-width="1.1" stroke-linejoin="round" />
<polyline points="25.70,176.43 36.03,195.96 46.36,213.17 56.69,217.40 67.02,218.56 77.35,218.91 87.68,219.00 98.01,219.00 108.34,219.00 118.67,219.00 129.00,219.00 139.33,219.00 149.66,219.00" fill="none" stroke="#2020f0" stroke-width="1.15" stroke-linejoin="round" />
<text transform="rotate(0.05 22.3 143.8)" x="22.3" y="143.8" font-size="9.6" text-anchor="end" font-weight="normal" font-style="normal" fill="#000" textLength="13" lengthAdjust="spacingAndGlyphs" >0.0</text>
<text transform="rotate(0.05 22.3 129.22000000000003)" x="22.3" y="129.22000000000003" font-size="9.6" text-anchor="end" font-weight="normal" font-style="normal" fill="#000" textLength="13" lengthAdjust="spacingAndGlyphs" >0.1</text>
<text transform="rotate(0.05 22.3 114.64000000000001)" x="22.3" y="114.64000000000001" font-size="9.6" text-anchor="end" font-weight="normal" font-style="normal" fill="#000" textLength="13" lengthAdjust="spacingAndGlyphs" >0.2</text>
<text transform="rotate(0.05 22.3 100.06)" x="22.3" y="100.06" font-size="9.6" text-anchor="end" font-weight="normal" font-style="normal" fill="#000" textLength="13" lengthAdjust="spacingAndGlyphs" >0.3</text>
<text transform="rotate(0.05 22.3 85.48)" x="22.3" y="85.48" font-size="9.6" text-anchor="end" font-weight="normal" font-style="normal" fill="#000" textLength="13" lengthAdjust="spacingAndGlyphs" >0.4</text>
<text transform="rotate(0.05 22.3 70.9)" x="22.3" y="70.9" font-size="9.6" text-anchor="end" font-weight="normal" font-style="normal" fill="#000" textLength="13" lengthAdjust="spacingAndGlyphs" >0.5</text>
<text transform="rotate(0.05 22.3 207.72)" x="22.3" y="207.72" font-size="9.6" text-anchor="end" font-weight="normal" font-style="normal" fill="#000" textLength="13" lengthAdjust="spacingAndGlyphs" >0.1</text>
<text transform="rotate(0.05 22.3 193.14000000000001)" x="22.3" y="193.14000000000001" font-size="9.6" text-anchor="end" font-weight="normal" font-style="normal" fill="#000" textLength="13" lengthAdjust="spacingAndGlyphs" >0.2</text>
<text transform="rotate(0.05 22.3 178.56)" x="22.3" y="178.56" font-size="9.6" text-anchor="end" font-weight="normal" font-style="normal" fill="#000" textLength="13" lengthAdjust="spacingAndGlyphs" >0.3</text>
<text transform="rotate(0.05 22.3 163.98000000000002)" x="22.3" y="163.98000000000002" font-size="9.6" text-anchor="end" font-weight="normal" font-style="normal" fill="#000" textLength="13" lengthAdjust="spacingAndGlyphs" >0.4</text>
<text transform="rotate(0.05 22.3 222.2)" x="22.3" y="222.2" font-size="9.6" text-anchor="end" font-weight="normal" font-style="normal" fill="#000" textLength="13" lengthAdjust="spacingAndGlyphs" >0.0</text>
<text transform="rotate(0.05 25.8 227.8)" x="25.8" y="227.8" font-size="9.6" text-anchor="middle" font-weight="normal" font-style="normal" fill="#000" textLength="5.6" lengthAdjust="spacingAndGlyphs" >0</text>
<text transform="rotate(0.05 46.46 227.8)" x="46.46" y="227.8" font-size="9.6" text-anchor="middle" font-weight="normal" font-style="normal" fill="#000" textLength="5.6" lengthAdjust="spacingAndGlyphs" >2</text>
<text transform="rotate(0.05 67.11999999999999 227.8)" x="67.11999999999999" y="227.8" font-size="9.6" text-anchor="middle" font-weight="normal" font-style="normal" fill="#000" textLength="5.6" lengthAdjust="spacingAndGlyphs" >4</text>
<text transform="rotate(0.05 87.78 227.8)" x="87.78" y="227.8" font-size="9.6" text-anchor="middle" font-weight="normal" font-style="normal" fill="#000" textLength="5.6" lengthAdjust="spacingAndGlyphs" >6</text>
<text transform="rotate(0.05 108.44 227.8)" x="108.44" y="227.8" font-size="9.6" text-anchor="middle" font-weight="normal" font-style="normal" fill="#000" textLength="5.6" lengthAdjust="spacingAndGlyphs" >8</text>
<text transform="rotate(0.05 129.1 227.8)" x="129.1" y="227.8" font-size="9.6" text-anchor="middle" font-weight="normal" font-style="normal" fill="#000" textLength="11.2" lengthAdjust="spacingAndGlyphs" >10</text>
<text transform="rotate(0.05 149.76 227.8)" x="149.76" y="227.8" font-size="9.6" text-anchor="middle" font-weight="normal" font-style="normal" fill="#000" textLength="11.2" lengthAdjust="spacingAndGlyphs" >12</text>
<text transform="rotate(0.05 65.5 237.6)" x="65.5" y="237.6" font-size="9.7" fill="#000" textLength="43.3" lengthAdjust="spacingAndGlyphs"><tspan font-style="italic">n</tspan> Photons</text>
<text transform="translate(7.0,102.1) rotate(-90)" font-size="8.4" text-anchor="middle" fill="#000" textLength="15.6" lengthAdjust="spacingAndGlyphs">P(n)</text>
<text transform="translate(7.0,180.7) rotate(-90)" font-size="8.4" text-anchor="middle" fill="#000" textLength="15.6" lengthAdjust="spacingAndGlyphs">P(n)</text>
<text transform="rotate(0.05 137.7 77.6)" x="137.7" y="77.6" font-size="14.2" text-anchor="start" font-weight="bold" font-style="normal" fill="#000" textLength="8.1" lengthAdjust="spacingAndGlyphs" >b</text>
<rect x="180.4" y="2.6" width="156.4" height="96.5" fill="none" stroke="#000" stroke-width="1.05" />
<line x1="183.2" y1="99.1" x2="183.2" y2="96.39999999999999" stroke="#000" stroke-width="0.7" />
<line x1="183.2" y1="2.6" x2="183.2" y2="5.300000000000001" stroke="#000" stroke-width="0.7" />
<line x1="190.76" y1="99.1" x2="190.76" y2="97.39999999999999" stroke="#000" stroke-width="0.7" />
<line x1="190.76" y1="2.6" x2="190.76" y2="4.3" stroke="#000" stroke-width="0.7" />
<line x1="198.32" y1="99.1" x2="198.32" y2="97.39999999999999" stroke="#000" stroke-width="0.7" />
<line x1="198.32" y1="2.6" x2="198.32" y2="4.3" stroke="#000" stroke-width="0.7" />
<line x1="205.88" y1="99.1" x2="205.88" y2="97.39999999999999" stroke="#000" stroke-width="0.7" />
<line x1="205.88" y1="2.6" x2="205.88" y2="4.3" stroke="#000" stroke-width="0.7" />
<line x1="213.44" y1="99.1" x2="213.44" y2="97.39999999999999" stroke="#000" stroke-width="0.7" />
<line x1="213.44" y1="2.6" x2="213.44" y2="4.3" stroke="#000" stroke-width="0.7" />
<line x1="221.0" y1="99.1" x2="221.0" y2="96.39999999999999" stroke="#000" stroke-width="0.7" />
<line x1="221.0" y1="2.6" x2="221.0" y2="5.300000000000001" stroke="#000" stroke-width="0.7" />
<line x1="228.56" y1="99.1" x2="228.56" y2="97.39999999999999" stroke="#000" stroke-width="0.7" />
<line x1="228.56" y1="2.6" x2="228.56" y2="4.3" stroke="#000" stroke-width="0.7" />
<line x1="236.11999999999998" y1="99.1" x2="236.11999999999998" y2="97.39999999999999" stroke="#000" stroke-width="0.7" />
<line x1="236.11999999999998" y1="2.6" x2="236.11999999999998" y2="4.3" stroke="#000" stroke-width="0.7" />
<line x1="243.67999999999998" y1="99.1" x2="243.67999999999998" y2="97.39999999999999" stroke="#000" stroke-width="0.7" />
<line x1="243.67999999999998" y1="2.6" x2="243.67999999999998" y2="4.3" stroke="#000" stroke-width="0.7" />
<line x1="251.23999999999998" y1="99.1" x2="251.23999999999998" y2="97.39999999999999" stroke="#000" stroke-width="0.7" />
<line x1="251.23999999999998" y1="2.6" x2="251.23999999999998" y2="4.3" stroke="#000" stroke-width="0.7" />
<line x1="258.79999999999995" y1="99.1" x2="258.79999999999995" y2="96.39999999999999" stroke="#000" stroke-width="0.7" />
<line x1="258.79999999999995" y1="2.6" x2="258.79999999999995" y2="5.300000000000001" stroke="#000" stroke-width="0.7" />
<line x1="266.36" y1="99.1" x2="266.36" y2="97.39999999999999" stroke="#000" stroke-width="0.7" />
<line x1="266.36" y1="2.6" x2="266.36" y2="4.3" stroke="#000" stroke-width="0.7" />
<line x1="273.91999999999996" y1="99.1" x2="273.91999999999996" y2="97.39999999999999" stroke="#000" stroke-width="0.7" />
<line x1="273.91999999999996" y1="2.6" x2="273.91999999999996" y2="4.3" stroke="#000" stroke-width="0.7" />
<line x1="281.48" y1="99.1" x2="281.48" y2="97.39999999999999" stroke="#000" stroke-width="0.7" />
<line x1="281.48" y1="2.6" x2="281.48" y2="4.3" stroke="#000" stroke-width="0.7" />
<line x1="289.03999999999996" y1="99.1" x2="289.03999999999996" y2="97.39999999999999" stroke="#000" stroke-width="0.7" />
<line x1="289.03999999999996" y1="2.6" x2="289.03999999999996" y2="4.3" stroke="#000" stroke-width="0.7" />
<line x1="296.59999999999997" y1="99.1" x2="296.59999999999997" y2="96.39999999999999" stroke="#000" stroke-width="0.7" />
<line x1="296.59999999999997" y1="2.6" x2="296.59999999999997" y2="5.300000000000001" stroke="#000" stroke-width="0.7" />
<line x1="304.15999999999997" y1="99.1" x2="304.15999999999997" y2="97.39999999999999" stroke="#000" stroke-width="0.7" />
<line x1="304.15999999999997" y1="2.6" x2="304.15999999999997" y2="4.3" stroke="#000" stroke-width="0.7" />
<line x1="311.71999999999997" y1="99.1" x2="311.71999999999997" y2="97.39999999999999" stroke="#000" stroke-width="0.7" />
<line x1="311.71999999999997" y1="2.6" x2="311.71999999999997" y2="4.3" stroke="#000" stroke-width="0.7" />
<line x1="319.28" y1="99.1" x2="319.28" y2="97.39999999999999" stroke="#000" stroke-width="0.7" />
<line x1="319.28" y1="2.6" x2="319.28" y2="4.3" stroke="#000" stroke-width="0.7" />
<line x1="326.84" y1="99.1" x2="326.84" y2="97.39999999999999" stroke="#000" stroke-width="0.7" />
<line x1="326.84" y1="2.6" x2="326.84" y2="4.3" stroke="#000" stroke-width="0.7" />
<line x1="334.4" y1="99.1" x2="334.4" y2="96.39999999999999" stroke="#000" stroke-width="0.7" />
<line x1="334.4" y1="2.6" x2="334.4" y2="5.300000000000001" stroke="#000" stroke-width="0.7" />
<line x1="180.4" y1="97.44000000000001" x2="182.20000000000002" y2="97.44000000000001" stroke="#000" stroke-width="0.7" />
<line x1="336.8" y1="97.44000000000001" x2="335.0" y2="97.44000000000001" stroke="#000" stroke-width="0.7" />
<line x1="180.4" y1="91.48" x2="182.20000000000002" y2="91.48" stroke="#000" stroke-width="0.7" />
<line x1="336.8" y1="91.48" x2="335.0" y2="91.48" stroke="#000" stroke-width="0.7" />
<line x1="180.4" y1="85.52000000000001" x2="183.3" y2="85.52000000000001" stroke="#000" stroke-width="0.7" />
<line x1="336.8" y1="85.52000000000001" x2="333.90000000000003" y2="85.52000000000001" stroke="#000" stroke-width="0.7" />
<line x1="180.4" y1="79.56" x2="182.20000000000002" y2="79.56" stroke="#000" stroke-width="0.7" />
<line x1="336.8" y1="79.56" x2="335.0" y2="79.56" stroke="#000" stroke-width="0.7" />
<line x1="180.4" y1="73.6" x2="182.20000000000002" y2="73.6" stroke="#000" stroke-width="0.7" />
<line x1="336.8" y1="73.6" x2="335.0" y2="73.6" stroke="#000" stroke-width="0.7" />
<line x1="180.4" y1="67.64" x2="182.20000000000002" y2="67.64" stroke="#000" stroke-width="0.7" />
<line x1="336.8" y1="67.64" x2="335.0" y2="67.64" stroke="#000" stroke-width="0.7" />
<line x1="180.4" y1="61.68000000000001" x2="183.3" y2="61.68000000000001" stroke="#000" stroke-width="0.7" />
<line x1="336.8" y1="61.68000000000001" x2="333.90000000000003" y2="61.68000000000001" stroke="#000" stroke-width="0.7" />
<line x1="180.4" y1="55.720000000000006" x2="182.20000000000002" y2="55.720000000000006" stroke="#000" stroke-width="0.7" />
<line x1="336.8" y1="55.720000000000006" x2="335.0" y2="55.720000000000006" stroke="#000" stroke-width="0.7" />
<line x1="180.4" y1="49.760000000000005" x2="182.20000000000002" y2="49.760000000000005" stroke="#000" stroke-width="0.7" />
<line x1="336.8" y1="49.760000000000005" x2="335.0" y2="49.760000000000005" stroke="#000" stroke-width="0.7" />
<line x1="180.4" y1="43.8" x2="182.20000000000002" y2="43.8" stroke="#000" stroke-width="0.7" />
<line x1="336.8" y1="43.8" x2="335.0" y2="43.8" stroke="#000" stroke-width="0.7" />
<line x1="180.4" y1="37.839999999999996" x2="183.3" y2="37.839999999999996" stroke="#000" stroke-width="0.7" />
<line x1="336.8" y1="37.839999999999996" x2="333.90000000000003" y2="37.839999999999996" stroke="#000" stroke-width="0.7" />
<line x1="180.4" y1="31.880000000000003" x2="182.20000000000002" y2="31.880000000000003" stroke="#000" stroke-width="0.7" />
<line x1="336.8" y1="31.880000000000003" x2="335.0" y2="31.880000000000003" stroke="#000" stroke-width="0.7" />
<line x1="180.4" y1="25.919999999999998" x2="182.20000000000002" y2="25.919999999999998" stroke="#000" stroke-width="0.7" />
<line x1="336.8" y1="25.919999999999998" x2="335.0" y2="25.919999999999998" stroke="#000" stroke-width="0.7" />
<line x1="180.4" y1="19.960000000000004" x2="182.20000000000002" y2="19.960000000000004" stroke="#000" stroke-width="0.7" />
<line x1="336.8" y1="19.960000000000004" x2="335.0" y2="19.960000000000004" stroke="#000" stroke-width="0.7" />
<line x1="180.4" y1="14.0" x2="183.3" y2="14.0" stroke="#000" stroke-width="0.7" />
<line x1="336.8" y1="14.0" x2="333.90000000000003" y2="14.0" stroke="#000" stroke-width="0.7" />
<line x1="180.4" y1="8.039999999999996" x2="182.20000000000002" y2="8.039999999999996" stroke="#000" stroke-width="0.7" />
<line x1="336.8" y1="8.039999999999996" x2="335.0" y2="8.039999999999996" stroke="#000" stroke-width="0.7" />
<polyline points="183.20,6.00 221.00,40.50 258.80,49.20 296.60,56.80 334.40,63.90" fill="none" stroke="#9512a0" stroke-width="1.1" stroke-linejoin="round" />
<line x1="183.2" y1="4.8" x2="183.2" y2="7.2" stroke="#9512a0" stroke-width="1.2" />
<circle cx="183.20" cy="6.00" r="1.1" fill="#9512a0"/>
<line x1="221.0" y1="39.3" x2="221.0" y2="41.7" stroke="#9512a0" stroke-width="1.2" />
<circle cx="221.00" cy="40.50" r="1.1" fill="#9512a0"/>
<line x1="258.79999999999995" y1="48.0" x2="258.79999999999995" y2="50.400000000000006" stroke="#9512a0" stroke-width="1.2" />
<circle cx="258.80" cy="49.20" r="1.1" fill="#9512a0"/>
<line x1="296.59999999999997" y1="55.599999999999994" x2="296.59999999999997" y2="58.0" stroke="#9512a0" stroke-width="1.2" />
<circle cx="296.60" cy="56.80" r="1.1" fill="#9512a0"/>
<line x1="334.4" y1="62.699999999999996" x2="334.4" y2="65.1" stroke="#9512a0" stroke-width="1.2" />
<circle cx="334.40" cy="63.90" r="1.1" fill="#9512a0"/>
<polyline points="183.20,6.00 221.00,78.10 258.80,90.00 296.60,93.10 334.40,95.70" fill="none" stroke="#2060ff" stroke-width="1.1" stroke-linejoin="round" />
<line x1="183.2" y1="4.8" x2="183.2" y2="7.2" stroke="#2060ff" stroke-width="1.2" />
<circle cx="183.20" cy="6.00" r="1.1" fill="#2060ff"/>
<line x1="221.0" y1="76.89999999999999" x2="221.0" y2="79.3" stroke="#2060ff" stroke-width="1.2" />
<circle cx="221.00" cy="78.10" r="1.1" fill="#2060ff"/>
<line x1="258.79999999999995" y1="88.8" x2="258.79999999999995" y2="91.2" stroke="#2060ff" stroke-width="1.2" />
<circle cx="258.80" cy="90.00" r="1.1" fill="#2060ff"/>
<line x1="296.59999999999997" y1="91.89999999999999" x2="296.59999999999997" y2="94.3" stroke="#2060ff" stroke-width="1.2" />
<circle cx="296.60" cy="93.10" r="1.1" fill="#2060ff"/>
<line x1="334.4" y1="94.5" x2="334.4" y2="96.9" stroke="#2060ff" stroke-width="1.2" />
<circle cx="334.40" cy="95.70" r="1.1" fill="#2060ff"/>
<text transform="rotate(0.05 178.6 89.12)" x="178.6" y="89.12" font-size="9.6" text-anchor="end" font-weight="normal" font-style="normal" fill="#000" textLength="13.3" lengthAdjust="spacingAndGlyphs" >0.2</text>
<text transform="rotate(0.05 178.6 65.28)" x="178.6" y="65.28" font-size="9.6" text-anchor="end" font-weight="normal" font-style="normal" fill="#000" textLength="13.3" lengthAdjust="spacingAndGlyphs" >0.4</text>
<text transform="rotate(0.05 178.6 41.440000000000005)" x="178.6" y="41.440000000000005" font-size="9.6" text-anchor="end" font-weight="normal" font-style="normal" fill="#000" textLength="13.3" lengthAdjust="spacingAndGlyphs" >0.6</text>
<text transform="rotate(0.05 178.6 17.6)" x="178.6" y="17.6" font-size="9.6" text-anchor="end" font-weight="normal" font-style="normal" fill="#000" textLength="13.3" lengthAdjust="spacingAndGlyphs" >0.8</text>
<text transform="rotate(0.05 183.0 107.7)" x="183.0" y="107.7" font-size="9.6" text-anchor="middle" font-weight="normal" font-style="normal" fill="#000" textLength="5.6" lengthAdjust="spacingAndGlyphs" >0</text>
<text transform="rotate(0.05 220.8 107.7)" x="220.8" y="107.7" font-size="9.6" text-anchor="middle" font-weight="normal" font-style="normal" fill="#000" textLength="11.2" lengthAdjust="spacingAndGlyphs" >10</text>
<text transform="rotate(0.05 258.59999999999997 107.7)" x="258.59999999999997" y="107.7" font-size="9.6" text-anchor="middle" font-weight="normal" font-style="normal" fill="#000" textLength="11.2" lengthAdjust="spacingAndGlyphs" >20</text>
<text transform="rotate(0.05 296.4 107.7)" x="296.4" y="107.7" font-size="9.6" text-anchor="middle" font-weight="normal" font-style="normal" fill="#000" textLength="11.2" lengthAdjust="spacingAndGlyphs" >30</text>
<text transform="rotate(0.05 334.2 107.7)" x="334.2" y="107.7" font-size="9.6" text-anchor="middle" font-weight="normal" font-style="normal" fill="#000" textLength="11.2" lengthAdjust="spacingAndGlyphs" >40</text>
<text transform="rotate(0.05 245.1 114.3)" x="245.1" y="114.3" font-size="9" font-style="italic" fill="#000" textLength="3.2" lengthAdjust="spacingAndGlyphs">t</text>
<text transform="rotate(0.05 248.5 115.6)" x="248.5" y="115.6" font-size="9.8" font-style="italic" fill="#000" textLength="12.7" lengthAdjust="spacingAndGlyphs">ion</text>
<text transform="rotate(0.05 265.4 113.5)" x="265.4" y="113.5" font-size="9.6" fill="#000" textLength="16" lengthAdjust="spacingAndGlyphs">(ns)</text>
<rect x="180.4" y="122.9" width="156.4" height="96.6" fill="none" stroke="#000" stroke-width="1.05" />
<line x1="183.2" y1="219.5" x2="183.2" y2="216.8" stroke="#000" stroke-width="0.7" />
<line x1="183.2" y1="122.9" x2="183.2" y2="125.60000000000001" stroke="#000" stroke-width="0.7" />
<line x1="192.64999999999998" y1="219.5" x2="192.64999999999998" y2="217.8" stroke="#000" stroke-width="0.7" />
<line x1="192.64999999999998" y1="122.9" x2="192.64999999999998" y2="124.60000000000001" stroke="#000" stroke-width="0.7" />
<line x1="202.1" y1="219.5" x2="202.1" y2="217.8" stroke="#000" stroke-width="0.7" />
<line x1="202.1" y1="122.9" x2="202.1" y2="124.60000000000001" stroke="#000" stroke-width="0.7" />
<line x1="211.54999999999998" y1="219.5" x2="211.54999999999998" y2="217.8" stroke="#000" stroke-width="0.7" />
<line x1="211.54999999999998" y1="122.9" x2="211.54999999999998" y2="124.60000000000001" stroke="#000" stroke-width="0.7" />
<line x1="221.0" y1="219.5" x2="221.0" y2="216.8" stroke="#000" stroke-width="0.7" />
<line x1="221.0" y1="122.9" x2="221.0" y2="125.60000000000001" stroke="#000" stroke-width="0.7" />
<line x1="230.45" y1="219.5" x2="230.45" y2="217.8" stroke="#000" stroke-width="0.7" />
<line x1="230.45" y1="122.9" x2="230.45" y2="124.60000000000001" stroke="#000" stroke-width="0.7" />
<line x1="239.89999999999998" y1="219.5" x2="239.89999999999998" y2="217.8" stroke="#000" stroke-width="0.7" />
<line x1="239.89999999999998" y1="122.9" x2="239.89999999999998" y2="124.60000000000001" stroke="#000" stroke-width="0.7" />
<line x1="249.34999999999997" y1="219.5" x2="249.34999999999997" y2="217.8" stroke="#000" stroke-width="0.7" />
<line x1="249.34999999999997" y1="122.9" x2="249.34999999999997" y2="124.60000000000001" stroke="#000" stroke-width="0.7" />
<line x1="258.79999999999995" y1="219.5" x2="258.79999999999995" y2="216.8" stroke="#000" stroke-width="0.7" />
<line x1="258.79999999999995" y1="122.9" x2="258.79999999999995" y2="125.60000000000001" stroke="#000" stroke-width="0.7" />
<line x1="268.25" y1="219.5" x2="268.25" y2="217.8" stroke="#000" stroke-width="0.7" />
<line x1="268.25" y1="122.9" x2="268.25" y2="124.60000000000001" stroke="#000" stroke-width="0.7" />
<line x1="277.7" y1="219.5" x2="277.7" y2="217.8" stroke="#000" stroke-width="0.7" />
<line x1="277.7" y1="122.9" x2="277.7" y2="124.60000000000001" stroke="#000" stroke-width="0.7" />
<line x1="287.15" y1="219.5" x2="287.15" y2="217.8" stroke="#000" stroke-width="0.7" />
<line x1="287.15" y1="122.9" x2="287.15" y2="124.60000000000001" stroke="#000" stroke-width="0.7" />
<line x1="296.59999999999997" y1="219.5" x2="296.59999999999997" y2="216.8" stroke="#000" stroke-width="0.7" />
<line x1="296.59999999999997" y1="122.9" x2="296.59999999999997" y2="125.60000000000001" stroke="#000" stroke-width="0.7" />
<line x1="306.04999999999995" y1="219.5" x2="306.04999999999995" y2="217.8" stroke="#000" stroke-width="0.7" />
<line x1="306.04999999999995" y1="122.9" x2="306.04999999999995" y2="124.60000000000001" stroke="#000" stroke-width="0.7" />
<line x1="315.5" y1="219.5" x2="315.5" y2="217.8" stroke="#000" stroke-width="0.7" />
<line x1="315.5" y1="122.9" x2="315.5" y2="124.60000000000001" stroke="#000" stroke-width="0.7" />
<line x1="324.95" y1="219.5" x2="324.95" y2="217.8" stroke="#000" stroke-width="0.7" />
<line x1="324.95" y1="122.9" x2="324.95" y2="124.60000000000001" stroke="#000" stroke-width="0.7" />
<line x1="334.4" y1="219.5" x2="334.4" y2="216.8" stroke="#000" stroke-width="0.7" />
<line x1="334.4" y1="122.9" x2="334.4" y2="125.60000000000001" stroke="#000" stroke-width="0.7" />
<line x1="180.4" y1="214.954" x2="182.20000000000002" y2="214.954" stroke="#000" stroke-width="0.7" />
<line x1="336.8" y1="214.954" x2="335.0" y2="214.954" stroke="#000" stroke-width="0.7" />
<line x1="180.4" y1="210.408" x2="182.20000000000002" y2="210.408" stroke="#000" stroke-width="0.7" />
<line x1="336.8" y1="210.408" x2="335.0" y2="210.408" stroke="#000" stroke-width="0.7" />
<line x1="180.4" y1="205.862" x2="182.20000000000002" y2="205.862" stroke="#000" stroke-width="0.7" />
<line x1="336.8" y1="205.862" x2="335.0" y2="205.862" stroke="#000" stroke-width="0.7" />
<line x1="180.4" y1="201.316" x2="182.20000000000002" y2="201.316" stroke="#000" stroke-width="0.7" />
<line x1="336.8" y1="201.316" x2="335.0" y2="201.316" stroke="#000" stroke-width="0.7" />
<line x1="180.4" y1="196.76999999999998" x2="183.3" y2="196.76999999999998" stroke="#000" stroke-width="0.7" />
<line x1="336.8" y1="196.76999999999998" x2="333.90000000000003" y2="196.76999999999998" stroke="#000" stroke-width="0.7" />
<line x1="180.4" y1="192.224" x2="182.20000000000002" y2="192.224" stroke="#000" stroke-width="0.7" />
<line x1="336.8" y1="192.224" x2="335.0" y2="192.224" stroke="#000" stroke-width="0.7" />
<line x1="180.4" y1="187.678" x2="182.20000000000002" y2="187.678" stroke="#000" stroke-width="0.7" />
<line x1="336.8" y1="187.678" x2="335.0" y2="187.678" stroke="#000" stroke-width="0.7" />
<line x1="180.4" y1="183.132" x2="182.20000000000002" y2="183.132" stroke="#000" stroke-width="0.7" />
<line x1="336.8" y1="183.132" x2="335.0" y2="183.132" stroke="#000" stroke-width="0.7" />
<line x1="180.4" y1="178.58599999999998" x2="182.20000000000002" y2="178.58599999999998" stroke="#000" stroke-width="0.7" />
<line x1="336.8" y1="178.58599999999998" x2="335.0" y2="178.58599999999998" stroke="#000" stroke-width="0.7" />
<line x1="180.4" y1="174.04" x2="183.3" y2="174.04" stroke="#000" stroke-width="0.7" />
<line x1="336.8" y1="174.04" x2="333.90000000000003" y2="174.04" stroke="#000" stroke-width="0.7" />
<line x1="180.4" y1="169.494" x2="182.20000000000002" y2="169.494" stroke="#000" stroke-width="0.7" />
<line x1="336.8" y1="169.494" x2="335.0" y2="169.494" stroke="#000" stroke-width="0.7" />
<line x1="180.4" y1="164.94799999999998" x2="182.20000000000002" y2="164.94799999999998" stroke="#000" stroke-width="0.7" />
<line x1="336.8" y1="164.94799999999998" x2="335.0" y2="164.94799999999998" stroke="#000" stroke-width="0.7" />
<line x1="180.4" y1="160.402" x2="182.20000000000002" y2="160.402" stroke="#000" stroke-width="0.7" />
<line x1="336.8" y1="160.402" x2="335.0" y2="160.402" stroke="#000" stroke-width="0.7" />
<line x1="180.4" y1="155.856" x2="182.20000000000002" y2="155.856" stroke="#000" stroke-width="0.7" />
<line x1="336.8" y1="155.856" x2="335.0" y2="155.856" stroke="#000" stroke-width="0.7" />
<line x1="180.4" y1="151.31" x2="183.3" y2="151.31" stroke="#000" stroke-width="0.7" />
<line x1="336.8" y1="151.31" x2="333.90000000000003" y2="151.31" stroke="#000" stroke-width="0.7" />
<line x1="180.4" y1="146.764" x2="182.20000000000002" y2="146.764" stroke="#000" stroke-width="0.7" />
<line x1="336.8" y1="146.764" x2="335.0" y2="146.764" stroke="#000" stroke-width="0.7" />
<line x1="180.4" y1="142.21800000000002" x2="182.20000000000002" y2="142.21800000000002" stroke="#000" stroke-width="0.7" />
<line x1="336.8" y1="142.21800000000002" x2="335.0" y2="142.21800000000002" stroke="#000" stroke-width="0.7" />
<line x1="180.4" y1="137.672" x2="182.20000000000002" y2="137.672" stroke="#000" stroke-width="0.7" />
<line x1="336.8" y1="137.672" x2="335.0" y2="137.672" stroke="#000" stroke-width="0.7" />
<line x1="180.4" y1="133.12599999999998" x2="182.20000000000002" y2="133.12599999999998" stroke="#000" stroke-width="0.7" />
<line x1="336.8" y1="133.12599999999998" x2="335.0" y2="133.12599999999998" stroke="#000" stroke-width="0.7" />
<line x1="180.4" y1="128.57999999999998" x2="183.3" y2="128.57999999999998" stroke="#000" stroke-width="0.7" />
<line x1="336.8" y1="128.57999999999998" x2="333.90000000000003" y2="128.57999999999998" stroke="#000" stroke-width="0.7" />
<line x1="180.4" y1="124.03399999999999" x2="182.20000000000002" y2="124.03399999999999" stroke="#000" stroke-width="0.7" />
<line x1="336.8" y1="124.03399999999999" x2="335.0" y2="124.03399999999999" stroke="#000" stroke-width="0.7" />
<polyline points="183.20,178.30 221.00,163.00 258.80,139.60 277.70,129.80 296.60,127.60 315.50,130.80 334.40,130.80" fill="none" stroke="#9512a0" stroke-width="1.1" stroke-linejoin="round" />
<line x1="183.2" y1="176.10000000000002" x2="183.2" y2="180.5" stroke="#9512a0" stroke-width="1.2" />
<line x1="182.2" y1="176.10000000000002" x2="184.2" y2="176.10000000000002" stroke="#9512a0" stroke-width="0.9" />
<line x1="182.2" y1="180.5" x2="184.2" y2="180.5" stroke="#9512a0" stroke-width="0.9" />
<line x1="221.0" y1="160.8" x2="221.0" y2="165.2" stroke="#9512a0" stroke-width="1.2" />
<line x1="220.0" y1="160.8" x2="222.0" y2="160.8" stroke="#9512a0" stroke-width="0.9" />
<line x1="220.0" y1="165.2" x2="222.0" y2="165.2" stroke="#9512a0" stroke-width="0.9" />
<line x1="258.79999999999995" y1="137.4" x2="258.79999999999995" y2="141.79999999999998" stroke="#9512a0" stroke-width="1.2" />
<line x1="257.79999999999995" y1="137.4" x2="259.79999999999995" y2="137.4" stroke="#9512a0" stroke-width="0.9" />
<line x1="257.79999999999995" y1="141.79999999999998" x2="259.79999999999995" y2="141.79999999999998" stroke="#9512a0" stroke-width="0.9" />
<line x1="277.7" y1="127.60000000000001" x2="277.7" y2="132.0" stroke="#9512a0" stroke-width="1.2" />
<line x1="276.7" y1="127.60000000000001" x2="278.7" y2="127.60000000000001" stroke="#9512a0" stroke-width="0.9" />
<line x1="276.7" y1="132.0" x2="278.7" y2="132.0" stroke="#9512a0" stroke-width="0.9" />
<line x1="296.59999999999997" y1="125.39999999999999" x2="296.59999999999997" y2="129.79999999999998" stroke="#9512a0" stroke-width="1.2" />
<line x1="295.59999999999997" y1="125.39999999999999" x2="297.59999999999997" y2="125.39999999999999" stroke="#9512a0" stroke-width="0.9" />
<line x1="295.59999999999997" y1="129.79999999999998" x2="297.59999999999997" y2="129.79999999999998" stroke="#9512a0" stroke-width="0.9" />
<line x1="315.5" y1="128.60000000000002" x2="315.5" y2="133.0" stroke="#9512a0" stroke-width="1.2" />
<line x1="314.5" y1="128.60000000000002" x2="316.5" y2="128.60000000000002" stroke="#9512a0" stroke-width="0.9" />
<line x1="314.5" y1="133.0" x2="316.5" y2="133.0" stroke="#9512a0" stroke-width="0.9" />
<line x1="334.4" y1="128.60000000000002" x2="334.4" y2="133.0" stroke="#9512a0" stroke-width="1.2" />
<line x1="333.4" y1="128.60000000000002" x2="335.4" y2="128.60000000000002" stroke="#9512a0" stroke-width="0.9" />
<line x1="333.4" y1="133.0" x2="335.4" y2="133.0" stroke="#9512a0" stroke-width="0.9" />
<polyline points="183.20,215.00 221.00,212.70 258.80,208.90 277.70,205.30 296.60,203.80 315.50,200.70 334.40,200.20" fill="none" stroke="#2060ff" stroke-width="1.1" stroke-linejoin="round" />
<line x1="183.2" y1="213.0" x2="183.2" y2="217.0" stroke="#2060ff" stroke-width="1.2" />
<line x1="182.2" y1="213.0" x2="184.2" y2="213.0" stroke="#2060ff" stroke-width="0.9" />
<line x1="182.2" y1="217.0" x2="184.2" y2="217.0" stroke="#2060ff" stroke-width="0.9" />
<line x1="221.0" y1="210.7" x2="221.0" y2="214.7" stroke="#2060ff" stroke-width="1.2" />
<line x1="220.0" y1="210.7" x2="222.0" y2="210.7" stroke="#2060ff" stroke-width="0.9" />
<line x1="220.0" y1="214.7" x2="222.0" y2="214.7" stroke="#2060ff" stroke-width="0.9" />
<line x1="258.79999999999995" y1="206.9" x2="258.79999999999995" y2="210.9" stroke="#2060ff" stroke-width="1.2" />
<line x1="257.79999999999995" y1="206.9" x2="259.79999999999995" y2="206.9" stroke="#2060ff" stroke-width="0.9" />
<line x1="257.79999999999995" y1="210.9" x2="259.79999999999995" y2="210.9" stroke="#2060ff" stroke-width="0.9" />
<line x1="277.7" y1="203.3" x2="277.7" y2="207.3" stroke="#2060ff" stroke-width="1.2" />
<line x1="276.7" y1="203.3" x2="278.7" y2="203.3" stroke="#2060ff" stroke-width="0.9" />
<line x1="276.7" y1="207.3" x2="278.7" y2="207.3" stroke="#2060ff" stroke-width="0.9" />
<line x1="296.59999999999997" y1="201.8" x2="296.59999999999997" y2="205.8" stroke="#2060ff" stroke-width="1.2" />
<line x1="295.59999999999997" y1="201.8" x2="297.59999999999997" y2="201.8" stroke="#2060ff" stroke-width="0.9" />
<line x1="295.59999999999997" y1="205.8" x2="297.59999999999997" y2="205.8" stroke="#2060ff" stroke-width="0.9" />
<line x1="315.5" y1="198.7" x2="315.5" y2="202.7" stroke="#2060ff" stroke-width="1.2" />
<line x1="314.5" y1="198.7" x2="316.5" y2="198.7" stroke="#2060ff" stroke-width="0.9" />
<line x1="314.5" y1="202.7" x2="316.5" y2="202.7" stroke="#2060ff" stroke-width="0.9" />
<line x1="334.4" y1="198.2" x2="334.4" y2="202.2" stroke="#2060ff" stroke-width="1.2" />
<line x1="333.4" y1="198.2" x2="335.4" y2="198.2" stroke="#2060ff" stroke-width="0.9" />
<line x1="333.4" y1="202.2" x2="335.4" y2="202.2" stroke="#2060ff" stroke-width="0.9" />
<text transform="rotate(0.05 178.6 200.36999999999998)" x="178.6" y="200.36999999999998" font-size="9.6" text-anchor="end" font-weight="normal" font-style="normal" fill="#000" textLength="13.3" lengthAdjust="spacingAndGlyphs" >0.2</text>
<text transform="rotate(0.05 178.6 177.64)" x="178.6" y="177.64" font-size="9.6" text-anchor="end" font-weight="normal" font-style="normal" fill="#000" textLength="13.3" lengthAdjust="spacingAndGlyphs" >0.3</text>
<text transform="rotate(0.05 178.6 154.91)" x="178.6" y="154.91" font-size="9.6" text-anchor="end" font-weight="normal" font-style="normal" fill="#000" textLength="13.3" lengthAdjust="spacingAndGlyphs" >0.4</text>
<text transform="rotate(0.05 178.6 132.17999999999998)" x="178.6" y="132.17999999999998" font-size="9.6" text-anchor="end" font-weight="normal" font-style="normal" fill="#000" textLength="13.3" lengthAdjust="spacingAndGlyphs" >0.5</text>
<text transform="rotate(0.05 178.6 222.1)" x="178.6" y="222.1" font-size="9.6" text-anchor="end" font-weight="normal" font-style="normal" fill="#000" textLength="13.3" lengthAdjust="spacingAndGlyphs" >0.1</text>
<text transform="rotate(0.05 183.0 227.9)" x="183.0" y="227.9" font-size="9.6" text-anchor="middle" font-weight="normal" font-style="normal" fill="#000" textLength="5.6" lengthAdjust="spacingAndGlyphs" >0</text>
<text transform="rotate(0.05 220.8 227.9)" x="220.8" y="227.9" font-size="9.6" text-anchor="middle" font-weight="normal" font-style="normal" fill="#000" textLength="11.2" lengthAdjust="spacingAndGlyphs" >20</text>
<text transform="rotate(0.05 258.59999999999997 227.9)" x="258.59999999999997" y="227.9" font-size="9.6" text-anchor="middle" font-weight="normal" font-style="normal" fill="#000" textLength="11.2" lengthAdjust="spacingAndGlyphs" >40</text>
<text transform="rotate(0.05 296.4 227.9)" x="296.4" y="227.9" font-size="9.6" text-anchor="middle" font-weight="normal" font-style="normal" fill="#000" textLength="11.2" lengthAdjust="spacingAndGlyphs" >60</text>
<text transform="rotate(0.05 334.2 227.9)" x="334.2" y="227.9" font-size="9.6" text-anchor="middle" font-weight="normal" font-style="normal" fill="#000" textLength="11.2" lengthAdjust="spacingAndGlyphs" >80</text>
<text transform="rotate(0.05 242.8 235.4)" x="242.8" y="235.4" font-size="9.6" font-style="italic" fill="#000" textLength="3.3" lengthAdjust="spacingAndGlyphs">t</text>
<text transform="rotate(0.05 245.6 237.7)" x="245.6" y="237.7" font-size="9.3" font-style="italic" fill="#000" textLength="22.3" lengthAdjust="spacingAndGlyphs">shelf</text>
<text transform="rotate(0.05 271.1 235.6)" x="271.1" y="235.6" font-size="9.6" fill="#000" textLength="16" lengthAdjust="spacingAndGlyphs">(ns)</text>
<g transform="rotate(-90)" font-size="9.6" fill="#000"><text x="-60.90" y="161.4" font-size="9.8" font-style="italic" textLength="5.6" lengthAdjust="spacingAndGlyphs">β</text><text x="-54.90" y="163.6" font-size="8.4" font-style="normal" textLength="4.7" lengthAdjust="spacingAndGlyphs">0</text><text x="-50.00" y="161.4" font-size="9.6" font-style="italic" textLength="2.2" lengthAdjust="spacingAndGlyphs">,</text><text x="-47.60" y="161.4" font-size="9.8" font-style="italic" textLength="5.6" lengthAdjust="spacingAndGlyphs">β</text><text x="-41.70" y="163.6" font-size="8.4" font-style="normal" textLength="4.5" lengthAdjust="spacingAndGlyphs">1</text></g>
<g transform="rotate(-90)" font-size="9.6" fill="#000"><text x="-180.20" y="161.4" font-size="9.8" font-style="italic" textLength="5.6" lengthAdjust="spacingAndGlyphs">β</text><text x="-174.20" y="163.6" font-size="8.4" font-style="normal" textLength="4.7" lengthAdjust="spacingAndGlyphs">0</text><text x="-169.30" y="161.4" font-size="9.6" font-style="italic" textLength="2.2" lengthAdjust="spacingAndGlyphs">,</text><text x="-166.90" y="161.4" font-size="9.8" font-style="italic" textLength="5.6" lengthAdjust="spacingAndGlyphs">β</text><text x="-161.00" y="163.6" font-size="8.4" font-style="normal" textLength="4.5" lengthAdjust="spacingAndGlyphs">1</text></g>
<text transform="rotate(0.05 323.8 17.0)" x="323.8" y="17.0" font-size="14.6" text-anchor="start" font-weight="bold" font-style="normal" fill="#000" textLength="7.4" lengthAdjust="spacingAndGlyphs" >c</text>
<text transform="rotate(0.05 324.1 147.9)" x="324.1" y="147.9" font-size="14.4" text-anchor="start" font-weight="bold" font-style="normal" fill="#000" textLength="8.3" lengthAdjust="spacingAndGlyphs" >d</text>
</svg>
</body></html>
